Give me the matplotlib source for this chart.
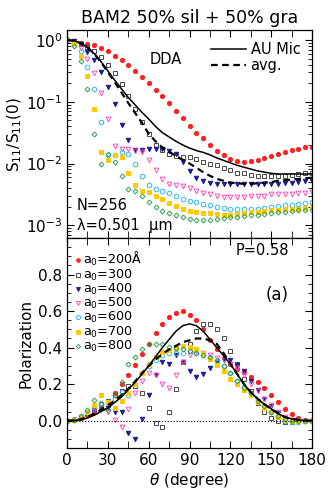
import numpy as np
import matplotlib
matplotlib.use("Agg")
import matplotlib.pyplot as plt
from matplotlib.ticker import MultipleLocator, LogLocator, NullFormatter

plt.rcParams['font.family'] = ['DejaVu Sans']
plt.rcParams['mathtext.fontset'] = 'dejavusans'

theta = np.arange(0, 181, 5)

# top panel: log10(S11/S11(0))
red_log = [0, -0.01, -0.04, -0.06, -0.087, -0.125, -0.185, -0.25, -0.326, -0.40, -0.50, -0.60, -0.70,
           -0.81, -0.91, -1.02, -1.15, -1.26, -1.39, -1.50, -1.59, -1.70, -1.79, -1.87, -1.93, -1.96,
           -1.97, -1.96, -1.94, -1.91, -1.88, -1.84, -1.81, -1.78, -1.77, -1.74, -1.73]
gray_log = [0, -0.01, -0.06, -0.11, -0.18, -0.28, -0.40, -0.54, -0.71, -0.91, -1.12, -1.33, -1.53,
            -1.70, -1.78, -1.85, -1.88, -1.89, -1.90, -1.93, -1.97, -2.00, -2.03, -2.07, -2.10, -2.15,
            -2.16, -2.19, -2.20, -2.21, -2.21, -2.21, -2.20, -2.19, -2.17, -2.16, -2.16]
navy_log = [0, -0.02, -0.07, -0.19, -0.33, -0.51, -0.76, -1.04, -1.38, -1.62, -1.78, -1.78, -1.76,
            -1.76, -1.77, -1.79, -1.85, -1.97, -2.12, -2.24, -2.29, -2.31, -2.33, -2.34, -2.34, -2.34,
            -2.33, -2.33, -2.33, -2.34, -2.34, -2.33, -2.32, -2.31, -2.30, -2.29, -2.29]
pink_log = [0, -0.04, -0.13, -0.30, -0.53, -0.86, -1.28, -1.71, -1.77, -1.77, -1.79, -1.81, -1.95,
            -2.10, -2.25, -2.33, -2.35, -2.37, -2.39, -2.44, -2.47, -2.50, -2.52, -2.54, -2.54, -2.54,
            -2.54, -2.53, -2.52, -2.52, -2.50, -2.50, -2.49, -2.49, -2.48, -2.47, -2.46]
cyan_log = [0, -0.06, -0.18, -0.43, -0.80, -1.32, -1.86, -1.86, -1.81, -1.85, -2.01, -2.20, -2.35,
            -2.42, -2.45, -2.47, -2.53, -2.57, -2.61, -2.63, -2.66, -2.68, -2.70, -2.72, -2.73, -2.74,
            -2.74, -2.74, -2.73, -2.72, -2.71, -2.69, -2.68, -2.67, -2.65, -2.64, -2.63]
gold_log = [0, -0.07, -0.25, -0.59, -1.12, -1.82, -1.95, -1.87, -1.90, -2.15, -2.35, -2.45, -2.46,
            -2.52, -2.58, -2.64, -2.69, -2.74, -2.77, -2.79, -2.80, -2.81, -2.82, -2.83, -2.83, -2.82,
            -2.81, -2.79, -2.78, -2.77, -2.76, -2.75, -2.74, -2.73, -2.73, -2.72, -2.71]
green_log = [0, -0.09, -0.34, -0.79, -1.52, -2.01, -1.85, -1.97, -2.20, -2.41, -2.45, -2.53, -2.62,
             -2.70, -2.77, -2.81, -2.84, -2.87, -2.90, -2.91, -2.91, -2.91, -2.90, -2.89, -2.87, -2.86,
             -2.85, -2.84, -2.83, -2.82, -2.80, -2.79, -2.78, -2.77, -2.76, -2.76, -2.75]
aumic_log = [0, -0.01, -0.05, -0.12, -0.22, -0.35, -0.50, -0.65, -0.79, -0.93, -1.05, -1.17, -1.28,
             -1.40, -1.50, -1.57, -1.64, -1.70, -1.75, -1.79, -1.82, -1.86, -1.91, -1.95, -1.99, -2.03,
             -2.06, -2.09, -2.12, -2.14, -2.16, -2.17, -2.17, -2.17, -2.17, -2.17, -2.17]
avg_log = [0, -0.01, -0.05, -0.12, -0.22, -0.36, -0.52, -0.68, -0.85, -1.02, -1.18, -1.34, -1.52,
           -1.64, -1.74, -1.81, -1.88, -1.94, -2.00, -2.07, -2.14, -2.20, -2.25, -2.28, -2.31, -2.32,
           -2.33, -2.33, -2.32, -2.31, -2.30, -2.28, -2.27, -2.26, -2.25, -2.24, -2.23]

# bottom panel: polarization
red_p = [0, 0.005, 0.015, 0.03, 0.05, 0.07, 0.10, 0.15, 0.20, 0.25, 0.305, 0.365, 0.42, 0.48, 0.53,
         0.57, 0.59, 0.60, 0.58, 0.55, 0.50, 0.44, 0.39, 0.345, 0.31, 0.285, 0.265, 0.24, 0.21, 0.18,
         0.14, 0.10, 0.065, 0.035, 0.015, 0.005, 0]
gray_p = [0, 0.005, 0.02, 0.04, 0.065, 0.09, 0.11, 0.14, 0.165, 0.19, 0.19, 0.15, 0.07, -0.015, -0.035,
          0.047, 0.175, 0.32, 0.42, 0.49, 0.53, 0.53, 0.50, 0.45, 0.38, 0.31, 0.23, 0.16, 0.095, 0.05,
          0.015, 0.0, -0.005, -0.005, 0.0, 0.0, 0]
navy_p = [0, 0.005, 0.02, 0.04, 0.06, 0.07, 0.07, 0.05, 0.045, -0.065, -0.10, 0.01, 0.14, 0.25, 0.32,
          0.31, 0.36, 0.32, 0.27, 0.24, 0.255, 0.29, 0.32, 0.33, 0.33, 0.305, 0.27, 0.22, 0.17, 0.12,
          0.08, 0.04, 0.01, 0.0, 0.0, 0.0, 0]
pink_p = [0, 0.005, 0.02, 0.04, 0.06, 0.07, 0.05, 0.005, -0.035, 0.065, 0.15, 0.22, 0.26, 0.25, 0.20,
          0.18, 0.25, 0.32, 0.36, 0.38, 0.37, 0.36, 0.345, 0.33, 0.31, 0.29, 0.25, 0.20, 0.16, 0.12,
          0.085, 0.05, 0.02, 0.005, 0.0, 0.0, 0]
cyan_p = [0, 0.005, 0.02, 0.045, 0.075, 0.095, 0.10, 0.12, 0.155, 0.14, 0.20, 0.26, 0.30, 0.33, 0.36,
          0.37, 0.37, 0.37, 0.38, 0.37, 0.36, 0.345, 0.32, 0.30, 0.26, 0.22, 0.185, 0.15, 0.11, 0.078,
          0.05, 0.02, 0.0, -0.005, -0.005, 0.0, 0]
gold_p = [0, 0.005, 0.02, 0.05, 0.085, 0.14, 0.10, 0.07, 0.11, 0.15, 0.20, 0.26, 0.31, 0.35, 0.375,
          0.385, 0.40, 0.41, 0.405, 0.39, 0.37, 0.34, 0.305, 0.27, 0.23, 0.20, 0.17, 0.14, 0.10, 0.07,
          0.045, 0.02, 0.005, 0.0, 0.0, 0.0, 0]
green_p = [0, 0.005, 0.025, 0.06, 0.115, 0.09, 0.06, 0.14, 0.21, 0.31, 0.35, 0.39, 0.42, 0.42, 0.42,
           0.405, 0.40, 0.39, 0.38, 0.37, 0.36, 0.35, 0.335, 0.30, 0.26, 0.22, 0.18, 0.15, 0.11, 0.08,
           0.05, 0.025, 0.01, 0.0, 0.0, 0.0, 0]
aumic_p = [0, 0.001, 0.005, 0.015, 0.03, 0.05, 0.07, 0.10, 0.13, 0.17, 0.21, 0.255, 0.30, 0.35, 0.40,
           0.445, 0.49, 0.52, 0.53, 0.52, 0.49, 0.445, 0.40, 0.355, 0.31, 0.255, 0.20, 0.155, 0.12,
           0.09, 0.065, 0.04, 0.02, 0.01, 0.005, 0.001, 0]
avg_p = [0, 0.002, 0.008, 0.02, 0.04, 0.06, 0.085, 0.11, 0.14, 0.175, 0.215, 0.26, 0.30, 0.335, 0.365,
         0.39, 0.41, 0.43, 0.44, 0.45, 0.45, 0.44, 0.42, 0.37, 0.31, 0.255, 0.20, 0.155, 0.12, 0.09,
         0.065, 0.04, 0.02, 0.01, 0.005, 0.001, 0]

sizes = ["200Å", "300", "400", "500", "600", "700", "800"]
top_sets = [red_log, gray_log, navy_log, pink_log, cyan_log, gold_log, green_log]
bot_sets = [red_p, gray_p, navy_p, pink_p, cyan_p, gold_p, green_p]
colors = ["#ff2020", "#484848", "#1c1c8c", "#ff50c0", "#30b8f0", "#ffc800", "#30a050"]
markers = ["o", "s", "v", "v", "o", "s", "D"]
filled = [True, False, True, False, False, True, False]
msizes = [3.0, 3.0, 3.2, 3.4, 3.3, 3.0, 2.5]

fig = plt.figure(figsize=(3.32, 4.99), dpi=100)
ax1 = fig.add_axes([0.202, 0.523, 0.738, 0.417])
ax2 = fig.add_axes([0.202, 0.102, 0.738, 0.421])


def draw_pts(ax, y, i):
    c = colors[i]
    ax.plot(theta, y, ls="none", marker=markers[i], ms=msizes[i],
            mfc=c if filled[i] else "none", mec=c, mew=0.7)


for i, s in enumerate(top_sets):
    draw_pts(ax1, 10 ** np.array(s), i)
ax1.plot(theta, 10 ** np.array(aumic_log), "k-", lw=1.1, label="AU Mic")
ax1.plot(theta, 10 ** np.array(avg_log), "k--", lw=1.6, dashes=(3, 2), label="avg.")
ax1.set_yscale("log")
ax1.set_ylim(6.2e-4, 1.46)
ax1.set_xlim(0, 180)
ax1.yaxis.set_major_locator(LogLocator(base=10, numticks=10))
ax1.yaxis.set_minor_locator(LogLocator(base=10, subs=np.arange(2, 10), numticks=10))
ax1.yaxis.set_minor_formatter(NullFormatter())
ax1.set_ylabel(r"S$_{11}$/S$_{11}$(0)", fontsize=11, labelpad=1)
ax1.set_xticklabels([])
ax1.set_title("BAM2 50% sil + 50% gra", fontsize=12.5, pad=5)
ax1.text(61, 0.49, "DDA", fontsize=10.5, va="center")
ax1.text(7, 1.75e-3, "N=256", fontsize=10.5)
ax1.text(7, 8.5e-4, "λ=0.501  μm", fontsize=10.5)
leg = ax1.legend(loc="upper right", frameon=False, fontsize=10.5, handlelength=2.4,
                 handletextpad=0.3, borderaxespad=0.4, labelspacing=0.1)

for i, s in enumerate(bot_sets):
    draw_pts(ax2, s, i)
ax2.plot(theta, aumic_p, "k-", lw=1.1)
ax2.plot(theta, avg_p, "k--", lw=1.6, dashes=(3, 2))
ax2.axhline(0, color="k", ls=":", lw=0.8)
ax2.set_xlim(0, 180)
ax2.set_ylim(-0.15, 1.0)
ax2.yaxis.set_major_locator(MultipleLocator(0.2))
ax2.yaxis.set_minor_locator(MultipleLocator(0.05))
ax2.set_yticks([0.0, 0.2, 0.4, 0.6, 0.8])
ax2.set_yticklabels(["0.0", "0.2", "0.4", "0.6", "0.8"])
ax2.set_ylabel("Polarization", fontsize=11, labelpad=3)
ax2.set_xlabel(r"$\theta$ (degree)", fontsize=11, labelpad=2)
ax2.text(124, 0.905, "P=0.58", fontsize=10.5)
ax2.text(146, 0.69, "(a)", fontsize=12, va="center")

# size labels
for i, lab in enumerate(sizes):
    yy = 0.878 - i * 0.078
    c = colors[i]
    ax2.plot([8], [yy], ls="none", marker=markers[i], ms=msizes[i] - 0.4,
             mfc=c if filled[i] else "none", mec=c, mew=0.7)
    ax2.text(11.5, yy - 0.022, "a$_0$=" + lab, fontsize=9.2, va="baseline")

for ax in (ax1, ax2):
    ax.xaxis.set_major_locator(MultipleLocator(30))
    ax.xaxis.set_minor_locator(MultipleLocator(15))
    ax.tick_params(which="both", direction="in", top=True, right=True, labelsize=11)
    ax.tick_params(which="major", length=5, width=0.8)
    ax.tick_params(which="minor", length=3, width=0.6)
    for sp in ax.spines.values():
        sp.set_linewidth(0.9)
ax1.tick_params(axis="x", which="minor", length=5)
ax2.tick_params(axis="x", which="minor", length=5)

fig.savefig("out.png", dpi=100)
